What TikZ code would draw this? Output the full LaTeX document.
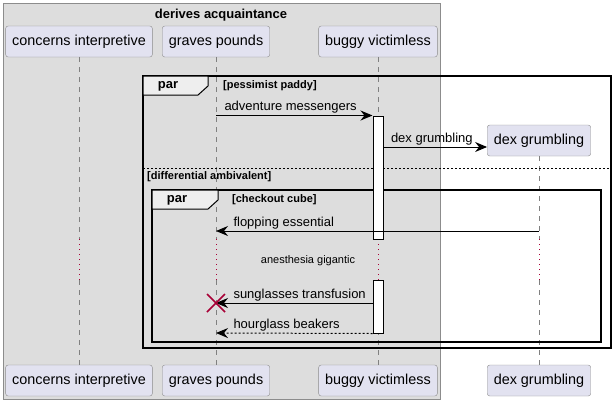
\documentclass[tikz,border=0pt]{standalone}
\usepackage{fontspec}
\setmainfont{Liberation Sans}
\usetikzlibrary{arrows.meta,calc}
\definecolor{boxfill}{HTML}{E2E2F0}
\definecolor{boxline}{HTML}{8C8C8C}
\definecolor{boxgray}{HTML}{DDDDDD}
\definecolor{tabfill}{HTML}{EEEEEE}
\definecolor{delayred}{HTML}{A80036}
\newcommand{\participant}[3]{%
 \node[pbox] ({#1}) at ({#2}) {#3};%
}
\newcommand{\lifeline}[2]{%
 \draw[life] ({#1}.south) -- ({#1}.south |- d1);%
 \draw[delay] ({#1}.south |- d1) -- ({#1}.south |- d2);%
 \draw[life] ({#1}.south |- d2) -- ({#2}.north);%
}
\newcommand{\parframe}[5]{%
 \draw[frame] ({#2}) rectangle ({#3});%
 \draw[tab] ({#2}) -- ++(#4,0) -- ++(0,10) -- ++(-10,9) -- ++(-#4+10,0) -- cycle;%
 \node[font=\fontsize{13}{15}\selectfont\bfseries] at ($({#2})+(25,10.5)$) {par};%
 \node[grp, anchor=west] ({#1}) at ($({#2})+(80,10)$) {#5};%
}

\begin{document}
\begin{tikzpicture}[x=1pt,y=-1pt,
  every node/.style={inner sep=0pt},
  pbox/.style={draw=boxline, fill=boxfill, rounded corners=2.5pt, minimum height=31pt, inner xsep=6.5pt, font=\fontsize{14.4}{16}\selectfont},
  life/.style={draw=gray, line width=.8pt, dash pattern=on 5pt off 5pt},
  delay/.style={draw=delayred, line width=.8pt, dash pattern=on 1pt off 4pt},
  frame/.style={draw=black, line width=1.5pt},
  tab/.style={draw=black, line width=1pt, fill=tabfill},
  grp/.style={font=\fontsize{11}{13}\selectfont\bfseries},
  act/.style={draw=black, fill=white, line width=1pt, minimum width=10pt},
  msg/.style={draw=black, line width=1pt, -{Stealth[length=12pt,width=10pt,inset=4pt]}},
  lbl/.style={font=\fontsize{13}{15}\selectfont, text height=10pt, text depth=3pt, anchor=south west, yshift=1.5pt}]
  \useasboundingbox (0,0) rectangle (616,405);
  \draw[draw=boxline, fill=boxgray] (3,3) rectangle (440,399);
  \node[font=\fontsize{13}{15}\selectfont\bfseries] (box) at (221,15.5) {derives acquaintance};
  \coordinate (d1) at (0,239);
  \coordinate (d2) at (0,280);
  \coordinate (m2) at (0,147);
  \coordinate (m3) at (0,231);
  \coordinate (m4) at (0,303);
  \coordinate (m5) at (0,333);
  \participant{ci}{79,41.5}{concerns interpretive};
  \participant{gp}{216,41.5}{graves pounds};
  \participant{bv}{378,41.5}{buggy victimless};
  \participant{dg}{539,140.5}{dex grumbling};
  \participant{cib}{79,380.5}{concerns interpretive};
  \participant{gpb}{216,380.5}{graves pounds};
  \participant{bvb}{378,380.5}{buggy victimless};
  \participant{dgb}{539,380.5}{dex grumbling};
  \lifeline{ci}{cib}
  \lifeline{gp}{gpb}
  \lifeline{bv}{bvb}
  \lifeline{dg}{dgb}
  \parframe{outer}{143,76}{611,348}{65}{[pessimist paddy]}
  \draw[line width=.8pt, dash pattern=on 2pt off 2pt] (143,168) -- (611,168);
  \node[grp, anchor=west] (else) at (147,177) {[differential ambivalent]};
  \parframe{inner}{152,190}{601,342}{66}{[checkout cube]}
  \node[act, minimum height=123pt] (act1) at (378,177.5) {};
  \node[act, minimum height=53pt] (act2) at (378,306.5) {};
  \draw[msg] (gp.south |- act1.north) -- (act1.north west) node[lbl, pos=0, xshift=8pt] {adventure messengers};
  \draw[msg] (act1.east |- m2) -- (dg.west |- m2) node[lbl, pos=0, xshift=7pt] {dex grumbling};
  \draw[msg] (dg.south |- m3) -- (gp.south |- m3) node[lbl, pos=1, xshift=17pt] {flopping essential};
  \node[font=\fontsize{11}{13}\selectfont] (ag) at (308,260.5) {anesthesia gigantic};
  \draw[msg] (act2.west |- m4) -- (gp.south |- m4) node[lbl, pos=1, xshift=17pt] {sunglasses transfusion};
  \draw[msg, dash pattern=on 2pt off 2pt] (act2.south west) -- (gp.south |- m5) node[lbl, pos=1, xshift=17pt] {hourglass beakers};
  \draw[delayred, line width=1.5pt] ($(gp.south |- m4)+(-9,-9)$) -- ++(18,18) ($(gp.south |- m4)+(-9,9)$) -- ++(18,-18);
\end{tikzpicture}
\end{document}
